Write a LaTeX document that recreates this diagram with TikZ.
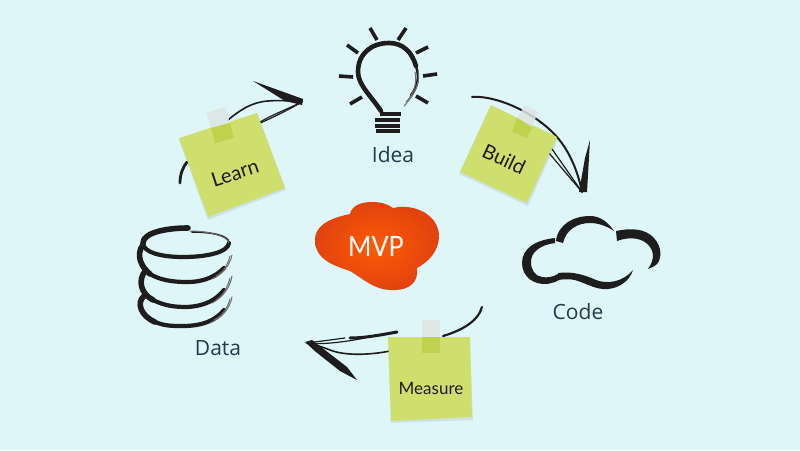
\documentclass[tikz,border=0pt]{standalone}
\usepackage{fontspec}
\setmainfont{Open Sans}
\newfontfamily\handfont{Lato}
\usetikzlibrary{calc}
\definecolor{bgc}{HTML}{DFF6F8}
\definecolor{ink}{HTML}{1E1C1D}
\definecolor{lab}{HTML}{1F3B4D}
\definecolor{notec}{HTML}{CEDF6E}
\definecolor{tapeo}{HTML}{BFD24E}
\definecolor{tapeg}{HTML}{DDE5E4}
\definecolor{cloudo}{HTML}{E2430E}
\definecolor{cloudi}{HTML}{FB5B06}
\tikzset{
 brush/.style={draw=ink,line width=5.6pt,line cap=round,line join=round},
 brushm/.style={draw=ink,line width=4.2pt,line cap=round,line join=round},
 thin stroke/.style={draw=ink,line width=1.6pt,line cap=round,line join=round},
 ray/.style={draw=ink,line width=3.6pt,line cap=butt},
 tail/.style={draw=ink!65,line width=1pt,line cap=round},
 lbl/.style={font=\fontsize{21}{23}\selectfont,text=lab,inner sep=0pt},
 hand/.style={font=\handfont\fontsize{20}{22}\selectfont,text=ink,inner sep=0pt},
 notep/.style={fill=notec,draw=none},
 shadowp/.style={fill=black,opacity=.08,draw=none},
}
\begin{document}
\begin{tikzpicture}[x=1pt,y=-1pt]
\useasboundingbox (0,0) rectangle (800,450);
\fill[bgc] (0,0) rectangle (800,450);

% lightbulb
\draw[brush,line width=4.6pt] (381,111) .. controls (372,97) and (358,85) .. (358,72) .. controls (358,53) and (372,43) .. (389,43) .. controls (403,43) and (412,52) .. (416,66);
\draw[brushm,line width=2.4pt] (416,66) .. controls (420,78) and (417,88) .. (411,95);
\draw[tail] (418,70) .. controls (421,82) and (414,96) .. (404,106);
\draw[tail] (415,72) .. controls (418,84) and (412,96) .. (406,102);
\foreach \a/\b/\c/\d in {370/28/377/40,406/28/398/40,347/45/358/53,428/47/416/53,339/76/353/77,437/74/423/76,350/104/362/97,428/103/416/96}
  \draw[ray] (\a,\b) -- (\c,\d);
\foreach \a/\b/\c/\d in {380/114/401/114,375/120/400/120,375/126/400/126,376/131/400/131}
  \draw[ray,line width=3.2pt] (\a,\b) -- (\c,\d);
\node[lbl] (idea) at (393,155) {Idea};

% cloud icon
\fill[ink] (555,238) .. controls (536,240) and (522,248) .. (522,263) .. controls (522,277) and (534,285) .. (547,284) .. controls (552,283) and (556,282) .. (559,280) -- (558,274) .. controls (553,277) and (547,278) .. (542,277) .. controls (535,276) and (531,270) .. (531,262) .. controls (531,252) and (540,245) .. (555,243) -- cycle;
\fill[ink] (558,273) .. controls (572,271) and (585,275) .. (596,280) .. controls (606,284) and (622,283) .. (633,270) .. controls (630,280) and (620,288) .. (608,289) .. controls (596,290) and (588,284) .. (575,280) .. controls (570,279) and (564,279) .. (558,280) -- cycle;
\fill[ink] (556,241) .. controls (558,224) and (574,216) .. (590,216) .. controls (600,216) and (608,222) .. (614,231) .. controls (607,226) and (598,223) .. (590,223) .. controls (577,223) and (566,230) .. (563,243) -- cycle;
\fill[ink] (616,231) .. controls (630,228) and (645,228) .. (654,238) .. controls (662,247) and (662,258) .. (657,264) .. controls (654,267) and (650,268) .. (648,269) .. controls (653,262) and (655,254) .. (650,247) .. controls (644,238) and (630,236) .. (617,241) -- cycle;
\node[lbl] (code) at (578,312) {Code};

% data icon
\draw[brush] (188,228) .. controls (165,228) and (143,233) .. (143,243);
\draw[brushm] (143,243) .. controls (143,252) and (160,257) .. (183,257) .. controls (208,257) and (228,252) .. (229,243);
\draw[brushm,line width=1.6pt] (229,243) .. controls (229,235) and (210,232) .. (192,232);
\draw[tail] (229,243) .. controls (228,236) and (208,231) .. (190,231);
\draw[brush] (143,245) .. controls (135,255) and (142,268) .. (150,274);
\draw[brushm] (150,274) .. controls (160,280) and (172,282) .. (187,282) .. controls (205,282) and (216,276) .. (224,268);
\draw[tail] (212,279) .. controls (222,275) and (230,265) .. (232,255);
\draw[tail] (216,276) .. controls (224,272) and (228,264) .. (230,256);
\draw[brush] (146,270) .. controls (137,280) and (141,294) .. (153,300);
\draw[brushm] (153,300) .. controls (165,306) and (175,307) .. (187,307) .. controls (205,306) and (216,300) .. (224,290);
\draw[tail] (212,303) .. controls (222,298) and (230,288) .. (232,276);
\draw[tail] (216,300) .. controls (224,295) and (228,286) .. (230,278);
\draw[brush] (144,296) .. controls (136,303) and (141,316) .. (155,322);
\draw[brushm] (155,322) .. controls (165,326) and (172,326) .. (183,326) .. controls (203,326) and (216,320) .. (224,310);
\draw[tail] (210,323) .. controls (222,318) and (230,308) .. (232,297);
\draw[tail] (214,320) .. controls (224,315) and (228,306) .. (230,299);
\node[lbl] (data) at (218,348) {Data};

% connectors
\coordinate (bs) at (472,97); \coordinate (bt) at (582,192); \coordinate (bh) at (590,140); \coordinate (bl) at (549,153);
\draw[thin stroke,line width=2pt] (bs) .. controls (495,95) and (535,112) .. (557,137) .. controls (570,152) and (578,172) .. (bt);
\draw[thin stroke,line width=1.2pt] (bl) -- (bt);
\draw[thin stroke,line width=1.2pt] (552,149) -- (bt);
\fill[ink] (bh) -- (587,192) -- (579,192) -- (585,158) -- cycle;

\coordinate (ls) at (180,183); \coordinate (lt) at (302,102); \coordinate (lh) at (253,81);
\draw[brushm,line width=2.8pt] (ls) .. controls (180,174) and (183,167) .. (187,162);
\draw[thin stroke] (228,120) .. controls (240,110) and (252,102) .. (268,101) .. controls (280,100) and (292,101) .. (lt);
\draw[thin stroke,line width=1.2pt] (258,124) .. controls (272,118) and (288,110) .. (lt);
\draw[thin stroke,line width=1.2pt] (260,122) .. controls (272,115) and (285,110) .. (lt);
\fill[ink] (lh) -- (303,99) -- (302,105) -- (285,101) -- cycle;

\coordinate (ms) at (482,307); \coordinate (mt) at (307,343); \coordinate (mh) at (357,380); \coordinate (mu) at (397,332);
\draw[thin stroke,line width=2.2pt] (ms) .. controls (478,322) and (460,331) .. (443,336);
\draw[thin stroke] (390,351) .. controls (370,355) and (345,356) .. (330,350) .. controls (320,346) and (312,344) .. (mt);
\draw[brushm,line width=3pt] (mu) .. controls (380,335) and (365,338) .. (350,338);
\draw[thin stroke,line width=1.2pt] (mt) .. controls (320,345) and (345,342) .. (365,338);
\draw[thin stroke,line width=1.2pt] (mt) -- (345,338);
\fill[ink] (305,342) -- (312,340) -- (347,367) -- (mh) -- (340,371) -- (316,352) -- cycle;

% notes
\path[shadowp] (490,107) -- (558,139) -- (528,206) -- (459,174) -- cycle;
\path[notep] (491,105) -- (557,137) -- (527,203) -- (460,172) -- cycle;
\path[fill=tapeg,opacity=.85] (525,105) -- (538,112) -- (532,127) -- (517,118) -- cycle;
\path[fill=tapeo] (517,118) -- (532,127) -- (527,138) -- (512,132) -- cycle;
\node[hand,rotate=-25] (build) at (504,159) {Build};

\path[shadowp] (179,140) -- (258,115) -- (286,190) -- (208,220) -- cycle;
\path[notep] (179,138) -- (257,113) -- (285,188) -- (208,217) -- cycle;
\path[fill=tapeg,opacity=.85] (206,113) -- (225,107) -- (230,123) -- (211,128) -- cycle;
\path[fill=tapeo] (211,128) -- (230,123) -- (234,138) -- (215,143) -- cycle;
\node[hand,rotate=18] (learn) at (235,173) {Learn};

\path[shadowp] (388,339) -- (470,339) -- (473,420) -- (391,423) -- cycle;
\path[notep] (388,337) -- (470,337) -- (472,417) -- (391,421) -- cycle;
\path[fill=tapeg,opacity=.85] (422,320) rectangle (440,337);
\path[fill=tapeo] (422,337) rectangle (440,353);
\node[hand,font=\handfont\fontsize{17}{19}\selectfont] (measure) at (431,388) {Measure};

% MVP cloud
\path[inner color=cloudi,outer color=cloudo] (315,240) .. controls (315,228) and (325,219) .. (350,214) .. controls (352,205) and (362,202) .. (372,202) .. controls (381,202) and (388,204) .. (393,208) .. controls (415,203) and (438,215) .. (439,235) .. controls (439,252) and (428,262) .. (417,268) .. controls (419,283) and (408,290) .. (395,290) .. controls (375,291) and (365,280) .. (350,271) .. controls (335,266) and (315,260) .. (315,240) -- cycle;
\node[font=\handfont\fontsize{28}{30}\selectfont,text=white,inner sep=0pt,xscale=.9] (mvp) at (376,246) {MVP};
\end{tikzpicture}
\end{document}
